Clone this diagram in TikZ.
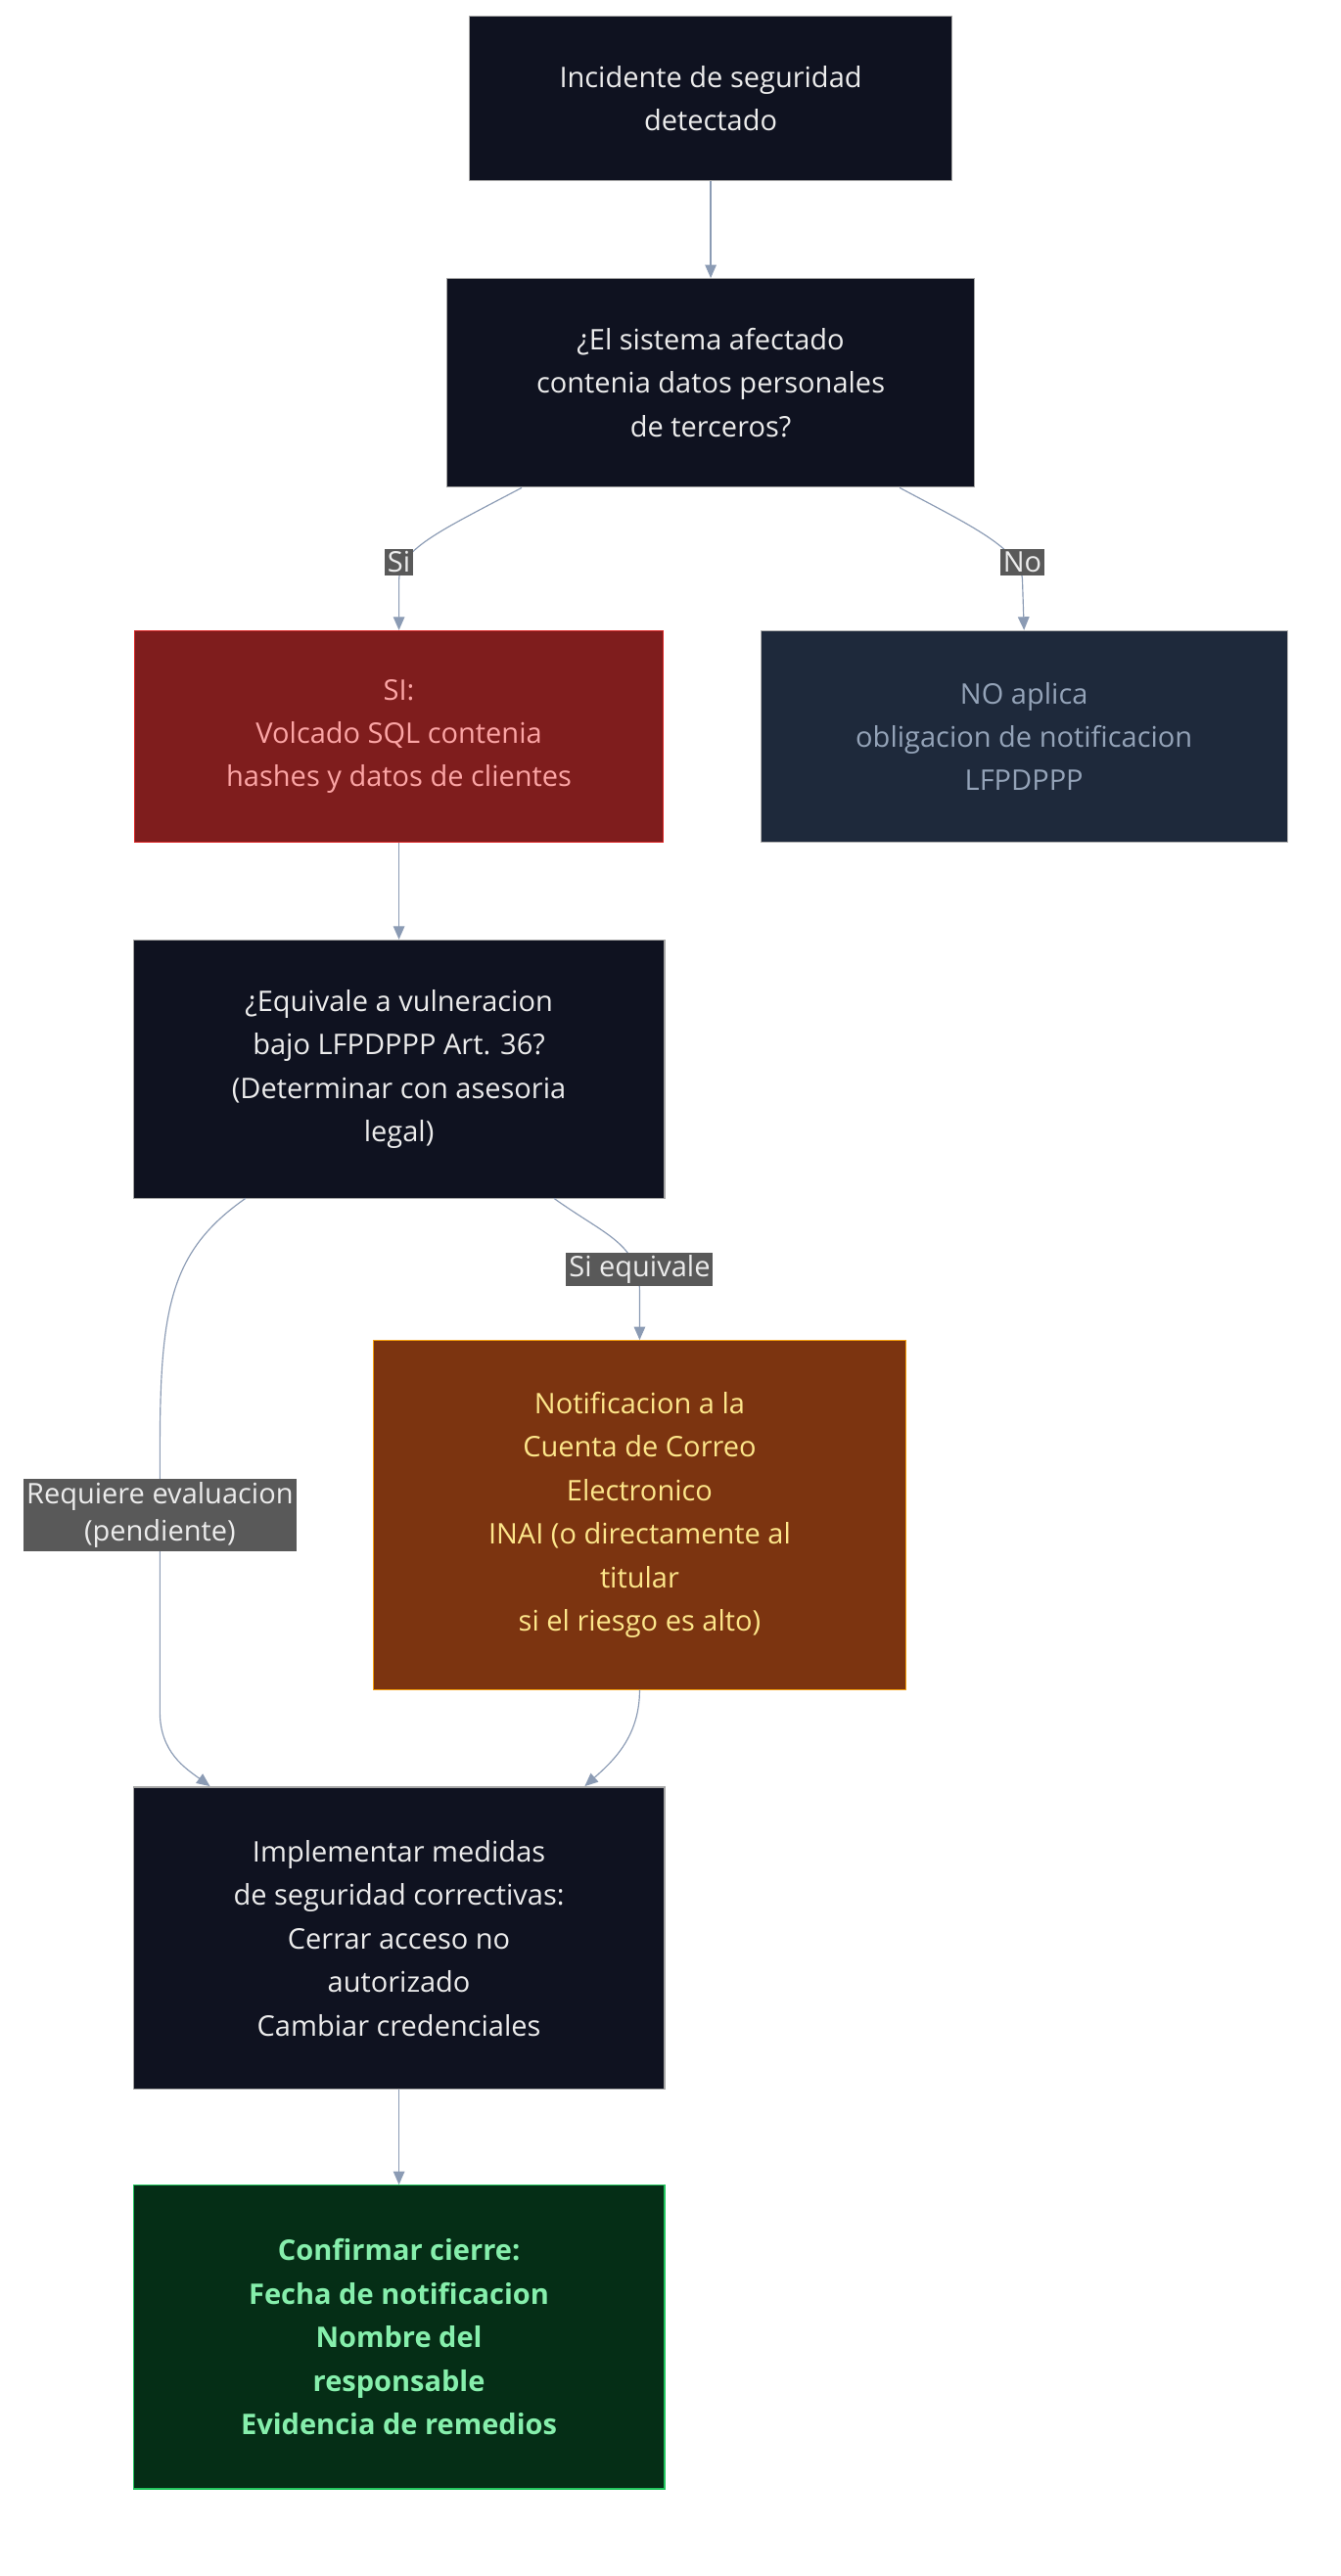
\documentclass[tikz,border=0pt]{standalone}
\usepackage{fontspec}
\setmainfont{Open Sans}
\usetikzlibrary{arrows.meta}
\definecolor{dk}{HTML}{0F1220}
\definecolor{ln}{HTML}{8B9BB4}
\definecolor{nofill}{HTML}{1E293B}
\definecolor{notext}{HTML}{94A3B8}
\definecolor{orfill}{HTML}{7C3410}
\definecolor{ortext}{HTML}{FDE68A}
\definecolor{ordraw}{HTML}{F59E0B}
\definecolor{grdraw}{HTML}{22C55E}
\definecolor{grfill}{HTML}{052E16}
\definecolor{grtext}{HTML}{86EFAC}
\definecolor{rdfill}{HTML}{7F1D1D}
\definecolor{rddraw}{HTML}{DC2626}
\definecolor{rdtext}{HTML}{FCA5A5}
\begin{document}
\begin{tikzpicture}[x=0.03cm,y=-0.03cm,
 box/.style={draw=#1,line width=0.6pt,align=center,font=\fontsize{15}{23}\selectfont,inner sep=0pt},
 b/.style={box=gray!70,fill=dk,text=white!85!gray},
 lab/.style={fill=black!65,text=white!85!gray,font=\fontsize{15}{20}\selectfont,inner sep=1.5pt,align=center},
 e/.style={draw=ln,line width=0.6pt,-{Triangle[length=7pt,width=6pt]}}]
\fill[white] (0,0) rectangle (830,1595);
\node[b,minimum width=299*0.03cm,minimum height=102*0.03cm] (n1) at (440,61) {Incidente de seguridad\\detectado};
\node[b,minimum width=327*0.03cm,minimum height=129*0.03cm] (n2) at (440,237) {¿El sistema afectado\\contenia datos personales\\de terceros?};
\node[box=rddraw,fill=rdfill,text=rdtext,minimum width=327*0.03cm,minimum height=131*0.03cm] (n3) at (247,456) {SI:\\Volcado SQL contenia\\hashes y datos de clientes};
\node[box=gray!60,fill=nofill,text=notext,minimum width=326*0.03cm,minimum height=131*0.03cm] (n4) at (634,456) {NO aplica\\obligacion de notificacion\\LFPDPPP};
\node[b,minimum width=329*0.03cm,minimum height=160*0.03cm] (n5) at (247,662) {¿Equivale a vulneracion\\bajo LFPDPPP Art. 36?\\(Determinar con asesoria\\legal)};
\node[box=ordraw,fill=orfill,text=ortext,minimum width=330*0.03cm,minimum height=216*0.03cm] (n6) at (396,938) {Notificacion a la\\Cuenta de Correo\\Electronico\\INAI (o directamente al\\titular\\si el riesgo es alto)};
\node[b,minimum width=329*0.03cm,minimum height=187*0.03cm] (n7) at (247,1200) {Implementar medidas\\de seguridad correctivas:\\Cerrar acceso no\\autorizado\\Cambiar credenciales};
\node[box=grdraw,fill=grfill,text=grtext,font=\fontsize{15}{23}\selectfont\bfseries,minimum width=329*0.03cm,minimum height=188*0.03cm] (n8) at (247,1447) {Confirmar cierre:\\Fecha de notificacion\\Nombre del\\responsable\\Evidencia de remedios};
\coordinate (a1) at (323,302);
\coordinate (a2) at (557,302);
\coordinate (a3) at (152,742);
\coordinate (a4) at (343,742);
\coordinate (a5) at (130,1106);
\coordinate (a6) at (362,1106);
\draw[e] (n1) -- (n2);
\draw[e] (a1) .. controls (270,330) and (247,340) .. (247,360) -- (n3.north);
\draw[e] (a2) .. controls (600,325) and (633,340) .. (633,360) -- (n4.north);
\draw[e] (n3) -- (n5);
\draw[e] (a3) .. controls (105,775) and (99,810) .. (99,900) -- (99,1060) .. controls (99,1085) and (115,1095) .. (a5);
\draw[e] (a4) .. controls (375,765) and (396,770) .. (396,800) -- (n6.north);
\draw[e] (n6.south) .. controls (396,1075) and (380,1090) .. (a6);
\draw[e] (n7) -- (n8);
\node[lab] at (247,348) {Si};
\node[lab] at (633,348) {No};
\node[lab] at (396,786) {Si equivale};
\node[lab] at (99,938) {Requiere evaluacion\\(pendiente)};
\end{tikzpicture}
\end{document}
